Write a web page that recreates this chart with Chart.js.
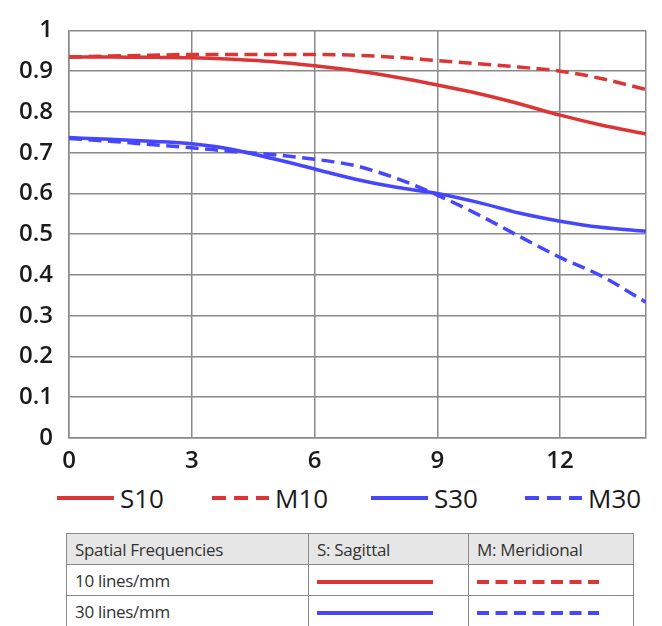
<!DOCTYPE html>
<html>
<head>
<meta charset="utf-8">
<script src="https://cdn.jsdelivr.net/npm/chart.js@4.4.0/dist/chart.umd.min.js"></script>
<style>
  html, body { margin: 0; padding: 0; background: #fff; }
  #wrap { position: relative; width: 662px; height: 626px; overflow: hidden; font-family: "Open Sans", sans-serif; }
  #chartBox { position: absolute; left: 0; top: 0; width: 662px; height: 480px; }
  .leg { position: absolute; top: 481px; height: 34px; display: flex; align-items: center; font-size: 26px; color: #1a1a1a; }
  .leg svg { margin-right: 6px; }
  table { position: absolute; left: 66px; top: 533px; border-collapse: collapse; font-size: 17px; color: #333; letter-spacing: -0.3px; }
  td { border: 1.5px solid #8a8a8a; height: 30px; padding: 0 0 0 8px; vertical-align: middle; white-space: nowrap; }
  tr.head td { background: #e6e6e6; }
</style>
</head>
<body>
<div id="wrap">
  <div id="chartBox"><canvas id="c" width="662" height="480"></canvas></div>
  <div id="legend"></div>
  <table>
    <tr class="head"><td style="width:233px">Spatial Frequencies</td><td style="width:151px">S: Sagittal</td><td style="width:156px">M: Meridional</td></tr>
    <tr><td>10 lines/mm</td><td id="s10cell"></td><td id="m10cell"></td></tr>
    <tr><td>30 lines/mm</td><td id="s30cell"></td><td id="m30cell"></td></tr>
  </table>
</div>
<script>
// ---- data ----
const xValues = [0, 1, 2, 3, 4, 5, 6, 7, 8, 9, 10, 11, 12, 13, 14.1];
const S10 = [0.935, 0.935, 0.934, 0.933, 0.929, 0.923, 0.913, 0.901, 0.885, 0.866, 0.845, 0.820, 0.792, 0.768, 0.746];
const M10 = [0.935, 0.937, 0.939, 0.941, 0.941, 0.941, 0.941, 0.939, 0.934, 0.926, 0.918, 0.910, 0.900, 0.882, 0.855];
const S30 = [0.737, 0.733, 0.728, 0.722, 0.708, 0.685, 0.660, 0.635, 0.615, 0.600, 0.578, 0.552, 0.532, 0.517, 0.507];
const M30 = [0.735, 0.728, 0.720, 0.712, 0.703, 0.695, 0.684, 0.668, 0.637, 0.596, 0.548, 0.495, 0.443, 0.398, 0.333];
const xTicks = [0, 3, 6, 9, 12];
const xMax = 14.1;
const yTicks = [0, 0.1, 0.2, 0.3, 0.4, 0.5, 0.6, 0.7, 0.8, 0.9, 1];
const seriesNames = ['S10', 'M10', 'S30', 'M30'];
const tableRows = ['10 lines/mm', '30 lines/mm'];

const RED = '#dc3535';
const BLUE = '#4646ff';
const DASH = [13, 6.5];

function pts(arr) { return xValues.map((x, i) => ({ x: x, y: arr[i] })); }
function ds(label, arr, color, dashed) {
  return {
    label: label, data: pts(arr), borderColor: color, backgroundColor: color,
    borderWidth: 3.5, borderDash: dashed ? DASH : [], pointRadius: 0,
    cubicInterpolationMode: 'monotone', fill: false
  };
}

new Chart(document.getElementById('c'), {
  type: 'line',
  data: {
    datasets: [
      ds(seriesNames[0], S10, RED, false),
      ds(seriesNames[1], M10, RED, true),
      ds(seriesNames[2], S30, BLUE, false),
      ds(seriesNames[3], M30, BLUE, true)
    ]
  },
  options: {
    responsive: false,
    animation: false,
    layout: { padding: { top: 19, right: 16, left: 0, bottom: 0 } },
    plugins: { legend: { display: false }, tooltip: { enabled: false } },
    scales: {
      x: {
        type: 'linear', min: 0, max: xMax,
        afterBuildTicks: s => { s.ticks = xTicks.concat([xMax]).map(v => ({ value: v })); },
        afterFit: s => { s.height = 42; },
        grid: { color: '#8a8a8a', lineWidth: 1.5, drawTicks: false },
        border: { color: '#8a8a8a', width: 1.5 },
        ticks: {
          autoSkip: false, maxRotation: 0, padding: 9, color: '#1a1a1a',
          font: { family: 'Open Sans', size: 24, weight: '600' },
          callback: v => (xTicks.includes(v) ? String(v) : '')
        }
      },
      y: {
        min: 0, max: 1,
        afterBuildTicks: s => { s.ticks = yTicks.map(v => ({ value: v })); },
        afterFit: s => { s.width = 69; },
        grid: { color: '#8a8a8a', lineWidth: 1.5, drawTicks: false },
        border: { color: '#8a8a8a', width: 1.5 },
        ticks: {
          autoSkip: false, padding: 16, color: '#1a1a1a',
          font: { family: 'Open Sans', size: 24, weight: '600' },
          callback: v => String(Math.round(v * 10) / 10)
        }
      }
    }
  }
});

// ---- legend ----
function lineSvg(w, color, dashed, sw, dash) {
  const d = dashed ? ` stroke-dasharray="${dash.join(' ')}"` : '';
  return `<svg width="${w}" height="10"><line x1="0" y1="5" x2="${w}" y2="5" stroke="${color}" stroke-width="${sw}"${d}/></svg>`;
}
const legendPos = [57, 212, 371, 525];
const legendCol = [RED, RED, BLUE, BLUE];
const legendDash = [false, true, false, true];
const legendEl = document.getElementById('legend');
seriesNames.forEach((n, i) => {
  const d = document.createElement('div');
  d.className = 'leg';
  d.style.left = legendPos[i] + 'px';
  d.innerHTML = lineSvg(57, legendCol[i], legendDash[i], 4, [14, 8]) + '<span>' + n + '</span>';
  legendEl.appendChild(d);
});
// ---- table samples ----
const cells = { s10cell: [RED, false], m10cell: [RED, true], s30cell: [BLUE, false], m30cell: [BLUE, true] };
Object.keys(cells).forEach(id => {
  const [c, dsh] = cells[id];
  document.getElementById(id).innerHTML = lineSvg(dsh ? 122 : 116, c, dsh, 4, [12, 6.5]);
});
</script>
</body>
</html>
